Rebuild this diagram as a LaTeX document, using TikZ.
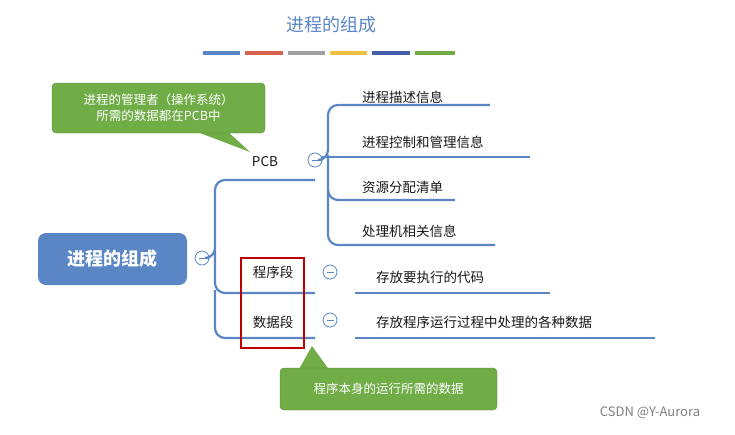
\documentclass[tikz,border=0pt]{standalone}
\usepackage{fontspec}
\setmainfont{Noto Sans CJK SC}
\begin{document}
\begin{tikzpicture}[x=1pt,y=-1pt,
  ln/.style={draw=lnc,line width=2.2pt},
  t/.style={font=\fontsize{13.5}{15}\selectfont,text=black!90,inner sep=0pt},
  mn/.style={circle,draw=lnc,line width=0.8pt,minimum size=14pt,inner sep=0pt,path picture={\draw[lnc,line width=1pt] ([xshift=-3.5pt]path picture bounding box.center) -- ([xshift=3.5pt]path picture bounding box.center);}},
  call/.style={fill=cg,draw=cg!80!black,rounded corners=4pt,text=white,font=\fontsize{12.5}{16}\selectfont,align=center}]
\definecolor{lnc}{HTML}{5B86C5}
\definecolor{cg}{HTML}{70AD47}
\useasboundingbox[fill=white] (0,0) rectangle (735,434);
\node[text=lnc,font=\fontsize{18}{20}\selectfont] (title) at (331,25) {进程的组成};
\definecolor{c1}{HTML}{5B86C5}\definecolor{c2}{HTML}{D9634A}\definecolor{c3}{HTML}{A0A0A0}
\definecolor{c4}{HTML}{F0C040}\definecolor{c5}{HTML}{3F5FA8}\definecolor{c6}{HTML}{70AD47}
\fill[c1] (203,51) rectangle (240,55);\fill[c2] (245,51) rectangle (283,55);
\fill[c3] (288,51) rectangle (325,55);\fill[c4] (330,51) rectangle (367,55);
\fill[c5] (372,51) rectangle (410,55);\fill[c6] (415,51) rectangle (455,55);
\node[fill=lnc,rounded corners=8pt,minimum width=149pt,minimum height=52pt,text=white,font=\bfseries\fontsize{18}{20}\selectfont] (root) at (112.5,259) {进程的组成};
\node[mn] (m0) at (202,258) {};
\draw[ln,rounded corners=10pt] (m0.east) -- (215,258) -- (215,180) -- (315,180);
\draw[ln,rounded corners=10pt] (215,250) -- (215,293) -- (315,293);
\draw[ln,rounded corners=10pt] (215,290) -- (215,338) -- (315,338);
\node[t] (pcb) at (265,162) {PCB};
\node[t] (cx) at (273,272) {程序段};
\node[t] (sj) at (273,322) {数据段};
\node[mn] (m1) at (315,160) {};
\node[mn] (m2) at (330,272) {};
\node[mn] (m3) at (330,320) {};
\draw[ln,rounded corners=10pt] (m1.east) -- (328,160) -- (328,105) -- (490,105);
\draw[ln] (322,157) -- (530,157);
\draw[ln,rounded corners=10pt] (328,155) -- (328,200) -- (455,200);
\draw[ln,rounded corners=10pt] (328,190) -- (328,245) -- (495,245);
\node[t,anchor=west] (a1) at (362,97) {进程描述信息};
\node[t,anchor=west] (a2) at (362,142) {进程控制和管理信息};
\node[t,anchor=west] (a3) at (362,187) {资源分配清单};
\node[t,anchor=west] (a4) at (362,231) {处理机相关信息};
\draw[ln] (355,293) -- (550,293);
\draw[ln] (355,338) -- (655,338);
\node[t,anchor=west] (b1) at (376,277) {存放要执行的代码};
\node[t,anchor=west] (b2) at (376,322) {存放程序运行过程中处理的各种数据};
\node[draw=red!75!black,line width=1.2pt,minimum width=63pt,minimum height=90pt] (box) at (272.5,303) {};
\fill[cg] (192,130) -- (250,152) -- (226,130) -- cycle;
\node[call,minimum width=213pt,minimum height=50pt] (c1) at (158.5,108) {进程的管理者（操作系统）\\所需的数据都在PCB中};
\fill[cg] (298,371) -- (312,346) -- (330,371) -- cycle;
\node[call,minimum width=217pt,minimum height=42pt] (c2) at (388.5,389) {程序本身的运行所需的数据};
\node[text=black!50,font=\fontsize{13}{14}\selectfont] (wm) at (650,413) {CSDN @Y-Aurora};
\end{tikzpicture}
\end{document}
